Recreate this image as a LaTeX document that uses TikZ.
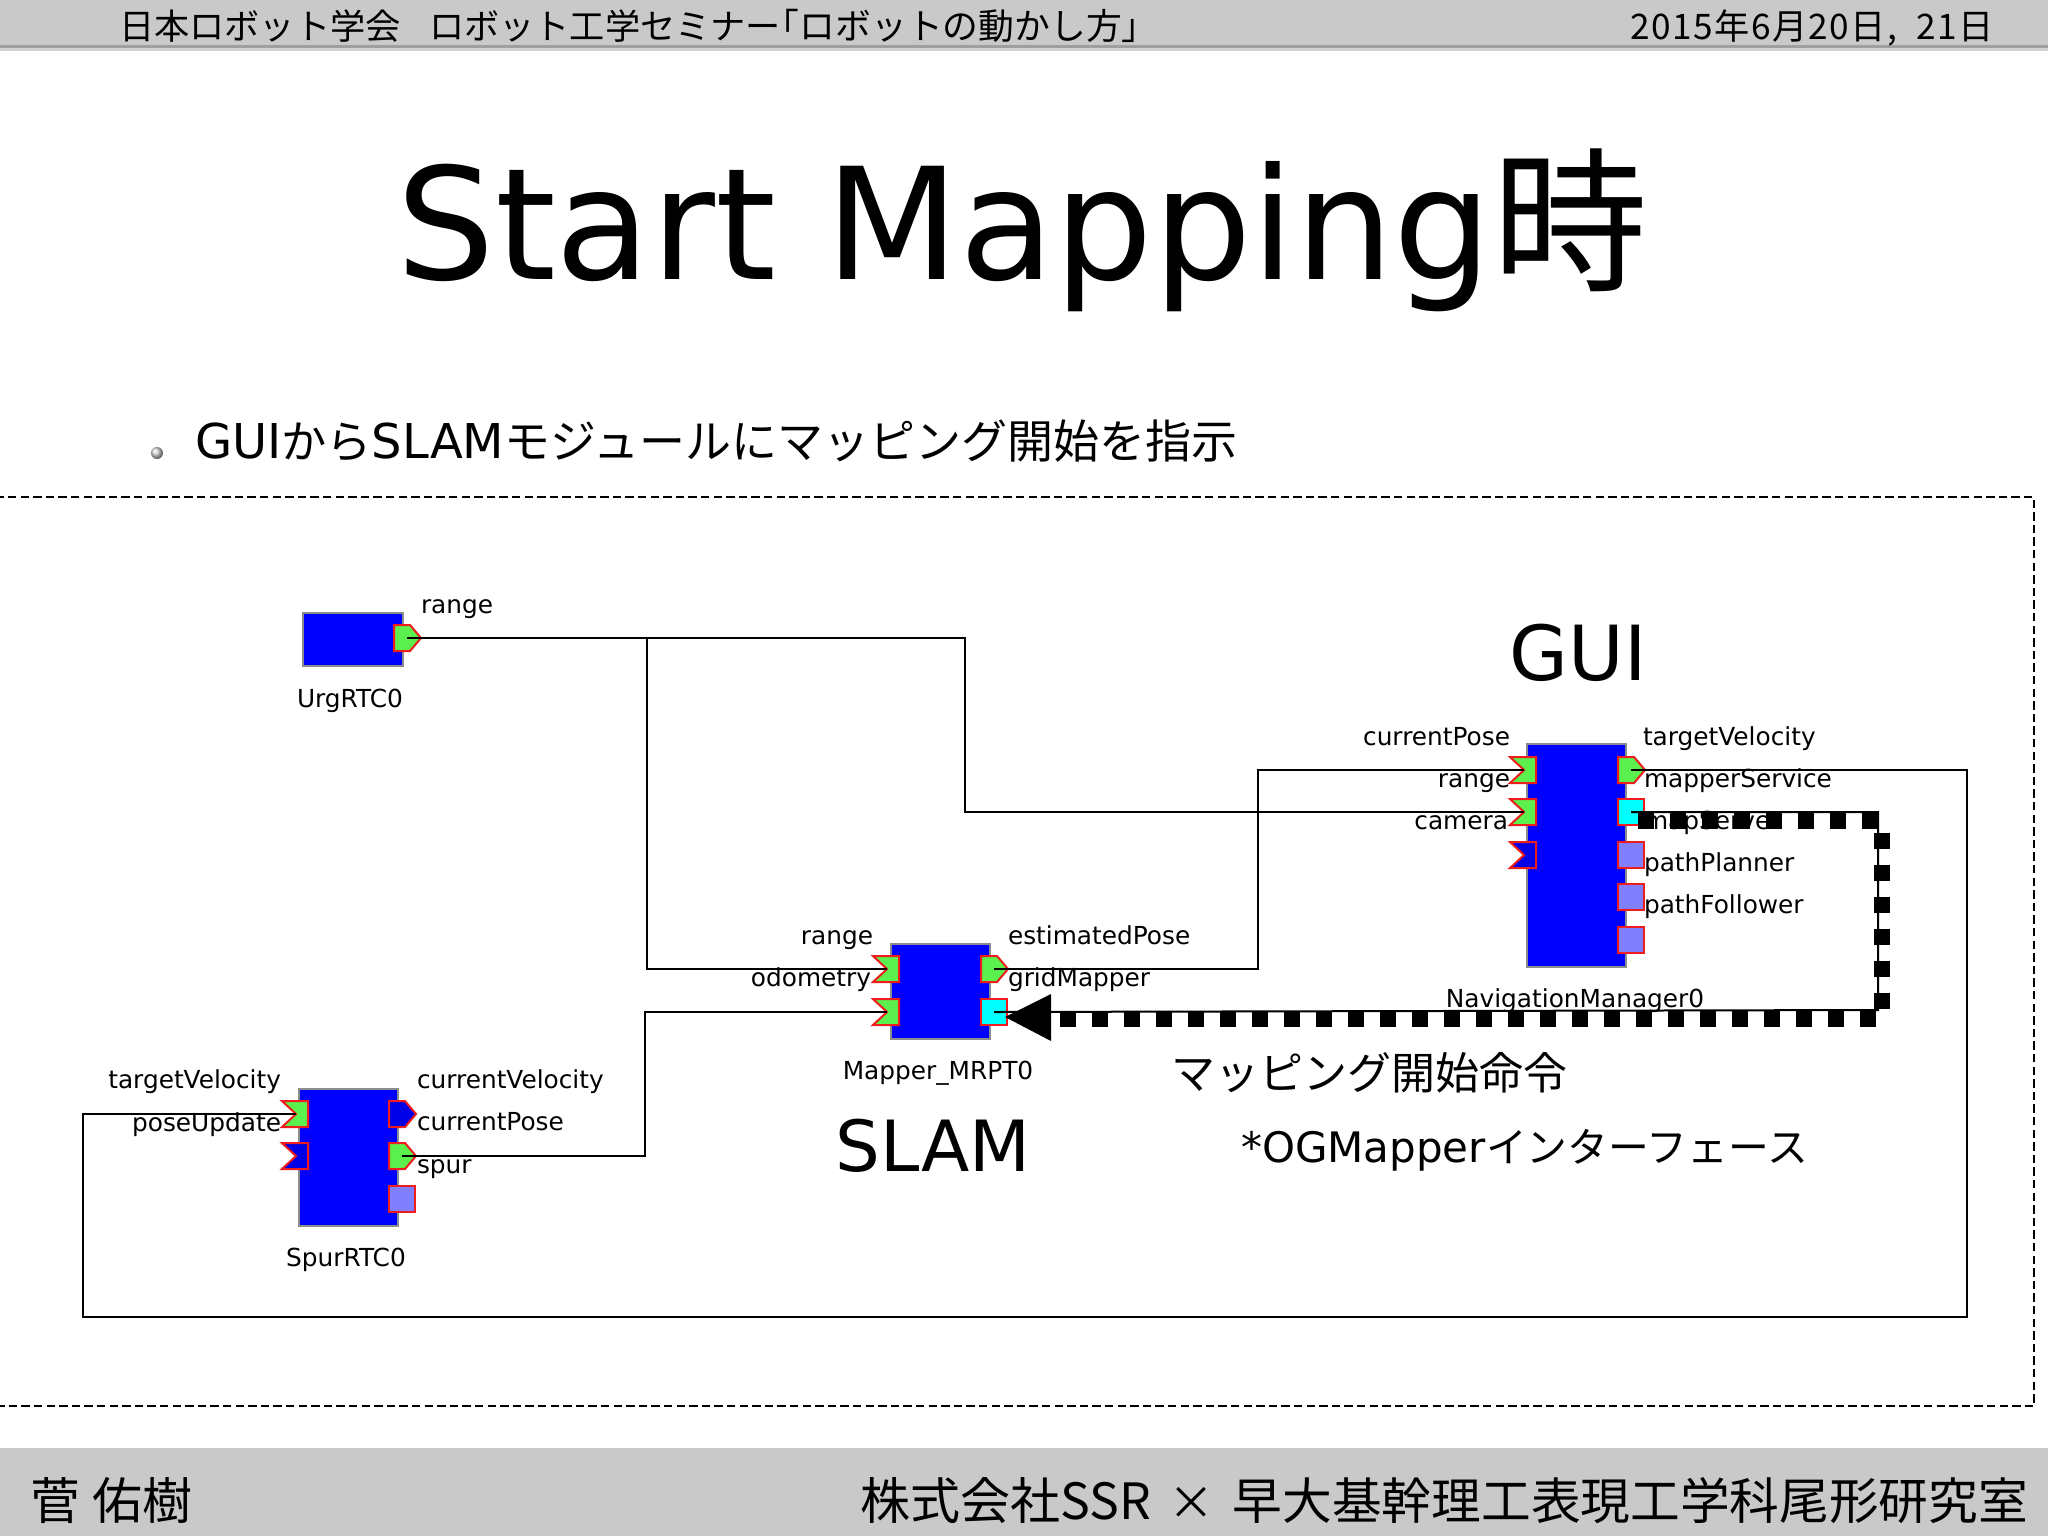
\documentclass[tikz,border=0pt]{standalone}
\usepackage{fontspec}
\usetikzlibrary{shadings}
\setmainfont{DejaVu Sans}
\newfontfamily\cjkf{Noto Sans CJK JP}
\newfontfamily\cjkdate[LetterSpace=4]{Noto Sans CJK JP}
\newcommand{\cj}[1]{{\cjkf #1}}
\newcommand{\fsz}[1]{\fontsize{#1}{#1}\selectfont}
\definecolor{barc}{HTML}{C9C9CA}
\definecolor{portg}{HTML}{5CF04E}
\definecolor{portb}{HTML}{0000E6}
\definecolor{portl}{HTML}{8080FF}
\definecolor{portr}{HTML}{EE1C1C}
\definecolor{portc}{HTML}{00FFFF}
\definecolor{boxb}{HTML}{0000FF}
\tikzset{
  x=0.5pt,y=-0.5pt,
  txt/.style={inner sep=0pt,outer sep=0pt,text=black},
  lbl/.style={txt,font=\fsz{12.4}},
  lw/.style={lbl,anchor=base west},
  le/.style={lbl,anchor=base east},
  lc/.style={lbl,anchor=base},
  rtc/.style={draw=gray!90,line width=1pt,fill=boxb,outer sep=0pt,inner sep=0pt,anchor=north west},
  wire/.style={draw=black,line width=1pt},
  cmd/.style={draw=black,line width=8pt,dash pattern=on 8pt off 8pt},
  inport/.pic={\coordinate (-c) at (0,0);
    \draw[portr,line width=1pt,fill=#1,line join=miter] (-14,-13)--(12,-13)--(12,13)--(-14,13)--(0,0)--cycle;},
  outport/.pic={\coordinate (-c) at (0,0);
    \draw[portr,line width=1pt,fill=#1] (-13,-13)--(3,-13)--(14,0)--(3,13)--(-13,13)--cycle;},
  svcport/.pic={\coordinate (-c) at (0,0);
    \draw[portr,line width=1pt,fill=#1] (-13,-13)--(13,-13)--(13,13)--(-13,13)--cycle;},
}
\begin{document}
\begin{tikzpicture}
\useasboundingbox (0,0) rectangle (2048,1536);
\fill[white] (0,0) rectangle (2048,1536);
% bars
\fill[barc] (0,0) rectangle (2048,46);
\fill[gray!75] (0,45) rectangle (2048,48);
\fill[gray!35] (0,48) rectangle (2048,51);
\fill[barc] (0,1448) rectangle (2048,1536);
\node[txt,anchor=base west,font=\fsz{17.6}] (hdl) at (119,40) {\cj{日本ロボット学会\hspace{14.3pt}ロボット工学セミナー\hspace{-8.7pt}{\fsz{17.9}「ロボットの動かし方」}}};
\node[txt,anchor=base east,font=\fsz{17.6}] (hdr) at (1994,40) {{\cjkdate 2015年6月20日,\hspace{10pt}21日}};
\node[txt,anchor=base west,font=\fsz{25}] (ftl) at (31,1519) {\cj{菅 佑樹}};
\node[txt,anchor=base east,font=\fsz{24.85}] (ftr) at (2028,1519) {\cj{{\fsz{25}株式会社SSR}\hspace{9pt}{\fsz{23}×}\hspace{9pt}早大基幹理工表現工学科尾形研究室}};
% title
\node[txt,anchor=base,font=\fsz{77.7}] (title) at (1022,279) {Start Mapping\cj{時}};
% bullet
\shade[ball color=gray!30] (157,453) circle (6);
\node[txt,anchor=base west,font=\fsz{24}] (bul) at (195,458) {GUI{\fsz{22.6}\cj{から}}SLAM{\fsz{23}\cj{モジュールにマッピング開始を指示}}};
% dashed frame
\draw[black,line width=0.8pt,dash pattern=on 4.2pt off 2.1pt] (-2,497) rectangle (2034,1406);
% big labels
\node[txt,anchor=base,font=\fsz{38}] (gui) at (1578,680) {GUI};
\node[txt,anchor=base,font=\fsz{35.3}] (slam) at (933,1171) {SLAM};
\node[txt,anchor=base west,font=\fsz{22}] (cmdl) at (1171,1089) {\cj{マッピング開始命令}};
\node[txt,anchor=base west,font=\fsz{21}] (ifl) at (1241,1162) {*OGMapper{\fsz{20.4}\cj{インターフェース}}};
% boxes
\node[rtc,draw,minimum width=50pt,minimum height=26.5pt] (urg) at (303,613) {};
\node[rtc,draw,minimum width=49.5pt,minimum height=111.5pt] (nav) at (1527,744) {};
\node[rtc,draw,minimum width=49.5pt,minimum height=47.5pt] (map) at (891,944) {};
\node[rtc,draw,minimum width=49.5pt,minimum height=68.5pt] (spur) at (299,1089) {};
% ports
\pic (uo) at (407,638) {outport=portg};
\pic (na) at (1524,770) {inport=portg};
\pic (nb) at (1524,812) {inport=portg};
\pic (nc) at (1524,855) {inport=portb};
\pic (nd) at (1631,770) {outport=portg};
\pic (ne) at (1631,812) {svcport=portc};
\pic (nf) at (1631,855) {svcport=portl};
\pic (ng) at (1631,897) {svcport=portl};
\pic (nh) at (1631,940) {svcport=portl};
\pic (ma) at (887,969) {inport=portg};
\pic (mb) at (887,1012) {inport=portg};
\pic (mc) at (994,969) {outport=portg};
\pic (md) at (994,1012) {svcport=portc};
\pic (sa) at (296,1114) {inport=portg};
\pic (sb) at (296,1156) {inport=portb};
\pic (sc) at (402,1114) {outport=portb};
\pic (sd) at (402,1156) {outport=portg};
\pic (se) at (402,1199) {svcport=portl};
% port labels
\node[lw] (l1) at (421,613) {range};
\node[lc] (l2) at (350,707) {UrgRTC0};
\node[le] (l3) at (1510,745) {currentPose};
\node[le] (l4) at (1510,787) {range};
\node[le] (l5) at (1508,829) {camera};
\node[lw] (l6) at (1643,745) {targetVelocity};
\node[lw] (l7) at (1644,787) {mapperService};
\node[lw] (l8) at (1644,829) {mapServer};
\node[lw] (l9) at (1644,871) {pathPlanner};
\node[lw] (l10) at (1644,913) {pathFollower};
\node[lc] (l11) at (1575,1007) {NavigationManager0};
\node[le] (l12) at (873,944) {range};
\node[le] (l13) at (871,986) {odometry};
\node[lw] (l14) at (1008,944) {estimatedPose};
\node[lw] (l15) at (1008,986) {gridMapper};
\node[lc] (l16) at (938,1079) {Mapper\_MRPT0};
\node[le] (l17) at (281,1088) {targetVelocity};
\node[le] (l18) at (281,1131) {poseUpdate};
\node[lw] (l19) at (417,1088) {currentVelocity};
\node[lw] (l20) at (417,1130) {currentPose};
\node[lw] (l21) at (417,1173) {spur};
\node[lc] (l22) at (346,1266) {SpurRTC0};
% connector waypoints
\coordinate (ja) at (965,638);
\coordinate (jb) at (647,638);
\coordinate (jc) at (1258,969);
\coordinate (jd) at (645,1156);
\coordinate (je) at (1967,770);
\coordinate (jf) at (1967,1317);
\coordinate (jg) at (83,1317);
\coordinate (jh) at (83,1114);
\coordinate (ji) at (1878,812);
\coordinate (jj) at (1878,1010);
% connectors
\draw[wire] (uo-c) -- (ja) |- (nb-c);
\draw[wire] (jb) |- (ma-c);
\draw[wire] (mc-c) -- (jc) |- (na-c);
\draw[wire] (sd-c) -- (jd) |- (mb-c);
\draw[wire] (nd-c) -- (je) -- (jf) -- (jg) -- (jh) -- (sa-c);
\draw[wire] (ne-c) -- (ji) -- (jj) -- (md-c);
% command overlay
\coordinate (ca) at (1638,821);
\coordinate (cb) at (1882,821);
\coordinate (cc) at (1882,1018.5);
\coordinate (cd) at (1056,1018.5);
\draw[cmd] (ca) -- (cb) -- (cc) -- (cd);
\coordinate (tip) at (1005,1017);
\coordinate (ta) at (1051,994);
\coordinate (tb) at (1051,1041);
\fill[black] (tip) -- (ta) -- (tb) -- cycle;
\end{tikzpicture}
\end{document}
